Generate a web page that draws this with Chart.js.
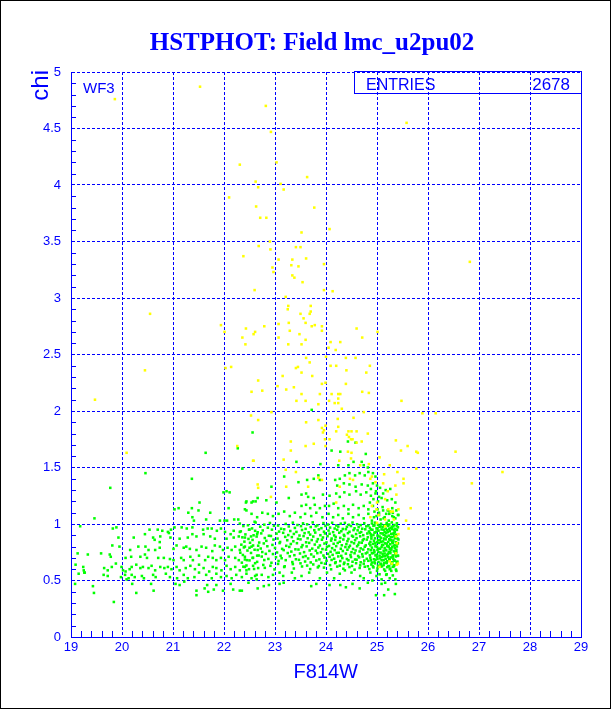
<!DOCTYPE html>
<html>
<head>
<meta charset="utf-8">
<script src="https://cdn.jsdelivr.net/npm/chart.js@4"></script>
<style>
  html, body { margin: 0; padding: 0; background: #fff; }
  canvas { display: block; }
</style>
</head>
<body>
<canvas id="myChart" width="612" height="709"></canvas>
<script>
// axis ranges (F814W magnitude, chi)
const xRange = [19, 29];
const yRange = [0, 5];
const entries = '2678';

// yellow stars: [F814W, chi]
const yellowStars = [
[19.86,4.76],[21.53,4.87],[22.82,4.70],[22.92,4.47],[25.58,4.55],[22.31,4.18],[23.03,4.20],[23.63,4.07],[22.67,3.98],[23.17,3.96],[22.10,3.89],
[22.62,4.03],[23.11,4.01],[22.63,3.81],[22.71,3.71],[22.83,3.71],[23.77,3.80],[23.52,3.58],[24.07,3.61],[22.90,3.50],[22.68,3.46],[22.91,3.43],[23.41,3.45],[23.50,3.45],[22.38,3.37],[23.07,3.34],[23.34,3.34],[23.61,3.35],[23.32,3.29],[23.46,3.28],[23.96,3.30],[22.95,3.27],[22.97,3.23],[23.34,3.20],[23.38,3.18],[23.54,3.14],[22.60,3.07],[23.96,3.07],[24.13,3.06],[23.21,3.01],[23.26,2.93],[23.70,2.93],[23.25,2.90],[23.70,2.88],[23.50,2.86],[23.68,2.86],[23.56,2.82],[23.60,2.78],[23.07,2.77],[23.27,2.78],[23.72,2.75],[23.78,2.76],[23.92,2.75],[23.92,2.71],[22.79,2.75],[22.43,2.73],[22.61,2.70],[22.58,2.68],[23.29,2.71],[23.48,2.68],[22.01,2.70],[21.94,2.76],[22.36,2.65],[22.42,2.59],[23.07,2.65],[23.60,2.63],[23.26,2.59],[23.52,2.59],[24.60,2.73],[24.71,2.65],[25.01,2.70],[24.09,2.61],[24.28,2.61],[24.05,2.56],[24.19,2.54],[23.61,2.47],[23.68,2.43],[23.45,2.39],[23.41,2.38],[23.52,2.34],[23.73,2.31],[23.15,2.31],[22.03,2.38],[22.14,2.39],[22.67,2.27],[22.54,2.17],[22.75,2.18],[23.05,2.22],[23.22,2.19],[23.37,2.21],[23.52,2.15],[23.88,2.15],[23.92,2.24],[23.99,2.25],[24.00,2.48],[24.09,2.40],[24.20,2.40],[24.11,2.15],[24.24,2.15],[24.28,2.15],[24.24,2.11],[24.40,2.36],[24.39,2.47],[24.58,2.47],[24.86,2.40],[24.79,2.34],[24.39,2.24],[24.71,2.17],[24.84,2.16],
[23.42,2.09],[23.60,2.09],[24.06,2.09],[23.85,2.06],[24.17,2.07],[24.24,2.07],[24.31,2.02],[25.48,2.09],[22.53,1.96],[22.67,1.92],[22.93,1.99],[23.61,1.90],[23.85,1.92],[23.99,1.87],[24.23,1.93],[24.54,1.94],[24.74,1.99],[25.89,1.98],[26.15,1.98],[23.92,1.85],[23.96,1.83],[24.24,1.86],[24.44,1.82],[24.50,1.82],[24.60,1.82],[24.82,1.80],[24.20,1.82],[23.94,1.81],[24.41,1.79],[24.45,1.77],[23.98,1.75],[24.07,1.75],[24.49,1.75],[24.52,1.75],[24.60,1.72],[24.70,1.73],[23.31,1.73],[23.76,1.71],[23.99,1.69],[23.60,1.69],[23.31,1.65],[22.57,1.56],[23.17,1.57],[24.50,1.63],[24.43,1.64],[24.26,1.56],[24.49,1.58],[24.67,1.52],[24.84,1.53],[25.05,1.59],[25.37,1.74],[25.47,1.65],[25.60,1.69],[25.77,1.64],[25.80,1.63],[25.25,1.52],[25.77,1.49],[25.40,1.46],[25.52,1.40],[25.36,1.34],[25.52,1.36],[25.14,1.44],[24.90,1.42],[24.87,1.40],[24.97,1.37],[25.12,1.36],[25.21,1.29],[25.16,1.22],[25.38,1.26],[25.66,1.14],[25.57,1.03],[25.62,0.96],[24.47,1.40],[24.53,1.39],[24.27,1.33],[24.20,1.19],[22.67,1.32],[22.92,1.24],[23.22,1.33],[23.21,1.48],[23.41,1.46],[23.65,1.33],[23.92,1.39],[23.85,1.41],
[24.87,1.06],[25.00,1.01],[25.16,1.04],[25.31,1.11],[25.42,1.13],[25.37,0.89],[24.90,1.16],[25.00,1.19],[24.99,1.13],[25.22,1.13],[25.27,1.11],[25.33,1.04],[25.42,0.91],[25.39,0.83],[25.37,0.74],[25.39,0.64],[25.25,0.67],[25.05,0.62],[25.16,0.98],[25.03,1.08],[25.29,0.65],[25.41,0.65],
[26.54,1.64],[27.46,1.46],[26.86,1.36],[26.82,3.32],[20.55,2.86],[20.45,2.36],[19.47,2.10],[20.09,1.63],[22.26,1.69],[22.58,1.56],[22.66,1.35]
];

// green stars: [F814W, chi]
const greenStars = [
// faint side, x < 22.7
[21.64,1.63],[22.27,1.67],[22.36,1.49],[20.46,1.45],[21.37,1.40],[19.77,1.32],[22.05,1.29],[22.11,1.28],[21.99,1.28],[22.62,1.20],[22.54,1.19],[22.43,1.19],[21.52,1.19],[21.03,1.13],[21.11,1.14],[21.30,1.10],[21.50,1.12],[21.37,1.14],[21.73,1.10],[22.09,1.14],[22.41,1.13],[19.46,1.05],[21.38,1.06],[21.41,1.03],[21.65,1.04],[21.92,1.03],[22.01,1.03],[22.06,1.03],[22.20,1.04],[22.28,1.04],[22.60,1.02],
[19.18,0.98],[19.89,0.97],[19.82,0.96],[20.54,0.95],[20.70,0.95],[20.79,0.94],[20.90,0.93],[20.96,0.95],[21.03,0.97],[21.17,0.97],[21.27,0.96],[21.38,0.97],[21.59,0.95],[21.68,0.96],[21.76,0.96],[21.86,0.94],[21.94,0.96],[22.02,0.93],[22.19,0.94],[22.31,0.93],[22.49,0.95],[22.61,0.94],
[19.93,0.88],[20.23,0.88],[20.45,0.91],[20.61,0.88],[20.75,0.89],[20.92,0.92],[20.95,0.88],[21.13,0.87],[21.29,0.88],[21.38,0.91],[21.46,0.89],[21.60,0.91],[21.73,0.89],[21.82,0.87],[22.05,0.87],[22.13,0.91],[22.19,0.88],[22.29,0.89],[22.41,0.88],[22.53,0.89],[22.65,0.91],[20.74,0.84],[20.64,0.86],
[19.81,0.81],[19.95,0.80],[20.16,0.77],[20.32,0.80],[20.46,0.80],[20.52,0.77],[20.65,0.77],[20.74,0.79],[21.01,0.78],[21.07,0.81],[21.21,0.79],[21.26,0.80],[21.33,0.78],[21.46,0.77],[21.56,0.80],[21.65,0.79],[21.77,0.76],[21.82,0.81],[21.92,0.80],[21.98,0.77],[22.07,0.79],[22.15,0.77],[22.22,0.80],[22.31,0.77],[22.41,0.80],[22.50,0.79],[22.57,0.81],[22.66,0.77],
[19.13,0.74],[19.33,0.73],[19.59,0.74],[19.76,0.73],[19.78,0.71],[20.07,0.70],[20.18,0.71],[20.36,0.71],[20.45,0.73],[20.49,0.70],[20.71,0.70],[20.82,0.70],[20.94,0.69],[21.01,0.68],[21.16,0.70],[21.21,0.68],[21.34,0.71],[21.39,0.68],[21.51,0.72],[21.63,0.68],[21.69,0.71],[21.78,0.70],[21.85,0.68],[21.94,0.70],[22.02,0.68],[22.09,0.71],[22.22,0.70],[22.29,0.68],[22.41,0.71],[22.45,0.68],[22.56,0.70],[22.65,0.72],
[19.09,0.64],[19.24,0.62],[19.25,0.59],[19.26,0.57],[19.65,0.61],[19.72,0.59],[19.80,0.62],[19.88,0.65],[19.99,0.62],[20.02,0.59],[20.07,0.58],[20.15,0.60],[20.19,0.62],[20.28,0.64],[20.36,0.61],[20.41,0.62],[20.52,0.61],[20.58,0.63],[20.65,0.59],[20.75,0.62],[20.83,0.61],[20.90,0.62],[20.97,0.60],[21.07,0.62],[21.13,0.59],[21.25,0.61],[21.34,0.63],[21.43,0.60],[21.51,0.64],[21.60,0.61],[21.71,0.58],[21.78,0.62],[21.85,0.61],[21.95,0.59],[22.05,0.63],[22.13,0.60],[22.22,0.62],[22.31,0.59],[22.41,0.62],[22.49,0.60],[22.57,0.63],[22.67,0.61],
[19.15,0.56],[19.27,0.57],[19.64,0.55],[19.72,0.54],[19.98,0.53],[20.06,0.55],[20.13,0.52],[20.19,0.55],[20.25,0.53],[20.39,0.54],[20.43,0.52],[20.61,0.55],[20.66,0.53],[20.86,0.56],[20.94,0.53],[21.08,0.52],[21.21,0.55],[21.29,0.52],[21.42,0.53],[21.51,0.57],[21.65,0.55],[21.76,0.52],[21.85,0.56],[21.94,0.53],[22.05,0.54],[22.15,0.52],[22.24,0.55],[22.35,0.53],[22.44,0.56],[22.54,0.52],[22.64,0.55],
[19.08,0.47],[19.43,0.45],[19.45,0.39],[20.09,0.51],[20.20,0.47],[20.28,0.39],[20.57,0.47],[20.62,0.41],[21.05,0.47],[21.13,0.46],[21.22,0.49],[21.46,0.41],[21.46,0.37],[21.62,0.43],[21.67,0.46],[21.69,0.40],[21.80,0.42],[21.85,0.46],[21.98,0.41],[22.13,0.47],[22.18,0.42],[22.31,0.41],[19.84,0.31],[22.48,0.48],[22.64,0.51],
// upper part of the main clump
[23.72,2.01],[22.56,1.81],[24.11,1.65],[24.28,1.64],[24.58,1.72],[24.43,1.73],[24.78,1.62],[23.42,1.55],[23.89,1.53],[24.24,1.52],[24.44,1.52],[24.54,1.55],[24.70,1.55],[24.74,1.52],[24.82,1.50],[23.18,1.42],[22.93,1.33],[23.46,1.37],[23.63,1.39],[23.76,1.40],[23.85,1.43],[23.88,1.39],[24.18,1.39],[24.27,1.40],[24.37,1.43],[24.46,1.45],[24.57,1.43],[24.66,1.45],[24.76,1.43],[24.83,1.46],[24.92,1.45],[24.97,1.42],[24.22,1.34],[24.35,1.36],[24.46,1.35],[24.58,1.33],[24.70,1.35],[24.82,1.34],[24.92,1.36],[25.00,1.34],
[22.44,1.20],[22.57,1.20],[22.66,1.23],[22.83,1.21],[23.03,1.19],[23.27,1.23],[23.52,1.26],[23.61,1.27],[23.65,1.24],[23.76,1.23],[23.94,1.26],[24.07,1.25],[24.20,1.27],[24.27,1.24],[24.36,1.28],[24.46,1.26],[24.59,1.29],[24.68,1.26],[24.79,1.28],[24.88,1.25],[24.97,1.27],[25.04,1.24],[25.12,1.27],
[23.52,1.16],[23.61,1.17],[23.69,1.14],[23.78,1.17],[23.88,1.14],[23.98,1.16],[24.06,1.16],[24.15,1.18],[24.24,1.14],[24.35,1.16],[24.44,1.13],[24.53,1.17],[24.64,1.14],[24.74,1.16],[24.83,1.13],[24.92,1.16],[25.01,1.13],[25.11,1.15],[25.21,1.12],[25.30,1.14],
[22.44,1.12],[22.54,1.09],[22.65,1.06],[22.75,1.10],[22.86,1.09],[22.96,1.07],[23.07,1.09],[23.18,1.11],[23.29,1.07],[23.39,1.10],[23.50,1.06],[23.59,1.09],[23.71,1.07],[23.81,1.10],[23.93,1.06],[24.05,1.09],[24.14,1.06],[24.24,1.08],[24.33,1.05],[24.44,1.09],[24.53,1.06],[24.64,1.08],[24.74,1.05],[24.83,1.09],[24.94,1.06],[25.04,1.08],[25.13,1.05],[25.24,1.09],[25.33,1.06],[25.42,1.08],
// dense band
[22.31,1.004],[22.47,0.989],[22.62,1.013],[22.79,0.994],[22.90,1.009],[23.06,0.986],[23.21,1.001],[23.35,1.012],[23.44,0.991],[23.55,1.006],[23.63,0.997],[23.74,1.014],[23.83,0.988],[23.95,1.008],[24.04,0.995],[24.12,1.011],[24.20,0.987],[24.29,1.003],[24.37,1.010],[24.45,0.993],[24.52,1.013],[24.61,0.998],[24.68,0.990],[24.75,1.007],[24.83,0.986],[24.90,1.005],[24.96,1.012],[25.02,0.992],[25.08,1.002],[25.14,0.988],[25.19,1.009],[25.24,0.996],[25.29,1.014],[25.34,0.991],[25.39,1.006],
[22.38,0.982],[22.55,0.961],[22.71,0.976],[22.86,0.967],[22.98,0.984],[23.12,0.958],[23.27,0.978],[23.39,0.965],[23.51,0.981],[23.60,0.957],[23.70,0.973],[23.80,0.980],[23.91,0.963],[23.99,0.983],[24.08,0.968],[24.17,0.960],[24.24,0.977],[24.33,0.956],[24.41,0.975],[24.49,0.982],[24.56,0.962],[24.64,0.972],[24.71,0.958],[24.79,0.979],[24.86,0.966],[24.93,0.984],[24.99,0.961],[25.05,0.976],[25.11,0.974],[25.17,0.959],[25.22,0.983],[25.27,0.964],[25.32,0.979],[25.36,0.956],[25.41,0.971],
[22.33,0.935],[22.50,0.951],[22.66,0.927],[22.76,0.943],[22.94,0.950],[23.08,0.933],[23.18,0.953],[23.30,0.938],[23.42,0.930],[23.53,0.947],[23.66,0.926],[23.77,0.945],[23.86,0.952],[23.96,0.932],[24.05,0.942],[24.14,0.928],[24.22,0.949],[24.30,0.936],[24.39,0.954],[24.46,0.931],[24.54,0.946],[24.62,0.944],[24.69,0.929],[24.77,0.953],[24.84,0.934],[24.91,0.949],[24.97,0.926],[25.03,0.941],[25.09,0.952],[25.15,0.931],[25.20,0.946],[25.25,0.937],[25.30,0.954],[25.35,0.928],[25.39,0.948],
[22.42,0.908],[22.58,0.900],[22.73,0.917],[22.88,0.896],[23.03,0.915],[23.16,0.922],[23.26,0.902],[23.37,0.912],[23.48,0.898],[23.58,0.919],[23.69,0.906],[23.79,0.924],[23.89,0.901],[23.98,0.916],[24.07,0.914],[24.16,0.899],[24.26,0.923],[24.35,0.904],[24.43,0.919],[24.51,0.896],[24.59,0.911],[24.66,0.922],[24.73,0.901],[24.81,0.916],[24.88,0.907],[24.95,0.924],[25.01,0.898],[25.07,0.918],[25.13,0.905],[25.18,0.921],[25.23,0.897],[25.28,0.913],[25.33,0.920],[25.38,0.903],
[22.36,0.882],[22.48,0.868],[22.64,0.889],[22.80,0.876],[22.92,0.894],[23.05,0.871],[23.20,0.886],[23.33,0.884],[23.45,0.869],[23.56,0.893],[23.64,0.874],[23.75,0.889],[23.84,0.866],[23.94,0.881],[24.03,0.892],[24.11,0.871],[24.19,0.886],[24.28,0.877],[24.36,0.894],[24.44,0.868],[24.53,0.888],[24.60,0.875],[24.67,0.891],[24.74,0.867],[24.82,0.883],[24.89,0.890],[24.96,0.873],[25.02,0.893],[25.08,0.878],[25.14,0.870],[25.19,0.887],[25.24,0.866],[25.29,0.885],[25.34,0.892],[25.40,0.872],
[22.40,0.844],[22.56,0.859],[22.69,0.836],[22.83,0.851],[22.97,0.862],[23.10,0.841],[23.24,0.856],[23.36,0.847],[23.50,0.864],[23.61,0.838],[23.72,0.858],[23.82,0.845],[23.92,0.861],[24.01,0.837],[24.10,0.853],[24.18,0.860],[24.27,0.843],[24.34,0.863],[24.42,0.848],[24.50,0.840],[24.57,0.857],[24.65,0.836],[24.72,0.855],[24.80,0.862],[24.87,0.842],[24.94,0.852],[25.00,0.838],[25.06,0.859],[25.12,0.846],[25.17,0.864],[25.22,0.841],[25.27,0.856],[25.32,0.854],[25.37,0.839],[25.42,0.863],
[22.34,0.817],[22.51,0.834],[22.67,0.808],[22.78,0.828],[22.95,0.815],[23.09,0.831],[23.22,0.807],[23.31,0.823],[23.43,0.830],[23.54,0.813],[23.67,0.833],[23.78,0.818],[23.88,0.810],[23.97,0.827],[24.06,0.806],[24.15,0.825],[24.23,0.832],[24.31,0.812],[24.40,0.822],[24.47,0.808],[24.55,0.829],[24.63,0.816],[24.70,0.834],[24.78,0.811],[24.85,0.826],[24.92,0.824],[24.98,0.809],[25.04,0.833],[25.10,0.814],[25.16,0.829],[25.21,0.806],[25.26,0.821],[25.31,0.832],[25.36,0.811],[25.40,0.826],
[22.39,0.793],[22.54,0.800],[22.72,0.783],[22.85,0.803],[23.00,0.788],[23.14,0.780],[23.28,0.797],[23.40,0.776],[23.52,0.795],[23.62,0.802],[23.73,0.782],[23.85,0.792],[23.93,0.778],[24.02,0.799],[24.12,0.786],[24.20,0.804],[24.29,0.781],[24.38,0.796],[24.45,0.794],[24.53,0.779],[24.61,0.803],[24.68,0.784],[24.76,0.799],[24.83,0.776],[24.90,0.791],[24.97,0.802],[25.03,0.781],[25.09,0.796],[25.15,0.787],[25.20,0.804],[25.25,0.778],[25.30,0.798],[25.35,0.785],[25.39,0.801],
[22.32,0.746],[22.46,0.765],[22.60,0.772],[22.75,0.752],[22.89,0.762],[23.04,0.748],[23.17,0.769],[23.32,0.756],[23.46,0.774],[23.57,0.751],[23.68,0.766],[23.80,0.764],[23.90,0.749],[24.00,0.773],[24.09,0.754],[24.17,0.769],[24.25,0.746],[24.33,0.761],[24.42,0.772],[24.50,0.751],[24.58,0.766],[24.66,0.757],[24.73,0.774],[24.81,0.748],[24.88,0.768],[24.95,0.755],[25.01,0.771],[25.07,0.747],[25.13,0.763],[25.18,0.770],[25.23,0.753],[25.28,0.773],[25.33,0.758],[25.38,0.750],
[22.37,0.726],[22.53,0.744],[22.68,0.721],[22.82,0.736],[22.96,0.734],[23.11,0.719],[23.25,0.743],[23.38,0.724],[23.49,0.739],[23.60,0.716],[23.71,0.731],[23.83,0.742],[23.95,0.721],[24.04,0.736],[24.13,0.727],[24.21,0.744],[24.30,0.718],[24.39,0.738],[24.48,0.725],[24.56,0.741],[24.63,0.717],[24.71,0.733],[24.78,0.740],[24.86,0.723],[24.93,0.743],[24.99,0.728],[25.05,0.720],[25.11,0.737],[25.16,0.716],[25.21,0.735],[25.26,0.742],[25.31,0.722],[25.36,0.732],[25.41,0.718],
[22.41,0.686],[22.57,0.701],[22.74,0.712],[22.87,0.691],[23.02,0.706],[23.13,0.697],[23.29,0.714],[23.41,0.688],[23.55,0.708],[23.65,0.695],[23.76,0.711],[23.87,0.687],[23.97,0.703],[24.07,0.710],[24.16,0.693],[24.24,0.713],[24.32,0.698],[24.41,0.690],[24.49,0.707],[24.57,0.686],[24.65,0.705],[24.72,0.712],[24.80,0.692],[24.87,0.702],[24.94,0.688],[25.00,0.709],[25.06,0.696],[25.12,0.714],[25.17,0.691],[25.22,0.706],[25.27,0.704],[25.32,0.689],[25.37,0.713],
[22.35,0.658],[22.50,0.678],[22.65,0.665],[22.79,0.681],[22.93,0.657],[23.07,0.673],[23.21,0.680],[23.34,0.663],[23.47,0.683],[23.59,0.668],[23.70,0.660],[23.81,0.677],[23.91,0.656],[24.01,0.675],[24.11,0.682],[24.19,0.662],[24.28,0.672],[24.36,0.658],[24.44,0.679],[24.52,0.666],[24.60,0.684],[24.68,0.661],[24.75,0.676],[24.83,0.674],[24.90,0.659],[24.97,0.683],[25.03,0.664],[25.09,0.679],[25.14,0.656],[25.20,0.671],[25.25,0.682],[25.30,0.661],[25.35,0.676],[25.40,0.667],
[22.44,0.633],[22.61,0.653],[22.77,0.638],[22.91,0.630],[23.06,0.647],[23.19,0.626],[23.35,0.645],[23.50,0.652],[23.63,0.632],[23.75,0.642],[23.86,0.628],[23.98,0.649],[24.08,0.636],[24.18,0.654],[24.27,0.631],[24.35,0.646],[24.43,0.644],[24.51,0.629],[24.59,0.653],[24.67,0.634],[24.74,0.649],[24.82,0.626],[24.89,0.641],[24.96,0.652],[25.02,0.631],[25.08,0.646],[25.13,0.637],[25.19,0.654],[25.24,0.628],[25.29,0.648],[25.34,0.635],[25.39,0.651],
[22.38,0.622],[22.59,0.602],[22.80,0.612],[22.99,0.598],[23.18,0.619],[23.37,0.606],[23.53,0.624],[23.69,0.601],[23.84,0.616],[23.96,0.614],[24.10,0.599],[24.22,0.623],[24.34,0.604],[24.46,0.619],[24.56,0.596],[24.66,0.611],[24.76,0.622],[24.85,0.601],[24.93,0.616],[25.01,0.607],[25.07,0.624],[25.14,0.598],[25.20,0.618],[25.26,0.605],[25.31,0.621],[25.37,0.597],
// bright core near 25 mag
[24.88,1.31],[24.98,1.29],[25.06,1.32],[25.17,1.30],[25.26,1.31],[24.93,1.22],[25.02,1.20],[25.09,1.23],[25.20,1.21],[25.29,1.22],[25.36,1.19],[24.86,1.19],[24.95,1.11],[25.04,1.10],[25.12,1.12],[25.18,1.09],[25.25,1.11],[25.31,1.10],[25.38,1.12],[24.90,1.03],[24.99,1.07],[25.07,1.04],[25.15,1.06],[25.23,1.03],[25.30,1.07],[25.36,1.05],[25.41,1.08],
[24.88,0.951],[24.95,0.988],[25.01,0.962],[25.07,0.979],[25.13,0.949],[25.18,0.991],[25.24,0.958],[25.29,0.976],[25.34,0.946],[25.39,0.983],
[24.86,0.921],[24.93,0.902],[24.99,0.933],[25.05,0.889],[25.11,0.917],[25.16,0.898],[25.21,0.929],[25.27,0.884],[25.32,0.913],[25.37,0.903],
[24.89,0.871],[24.96,0.829],[25.02,0.858],[25.08,0.842],[25.14,0.869],[25.19,0.826],[25.25,0.861],[25.30,0.838],[25.35,0.874],[25.41,0.831],
[24.87,0.811],[24.94,0.769],[25.00,0.797],[25.06,0.781],[25.12,0.815],[25.17,0.768],[25.23,0.799],[25.28,0.784],[25.33,0.809],[25.38,0.772],
[24.90,0.741],[24.97,0.722],[25.03,0.752],[25.09,0.708],[25.15,0.739],[25.20,0.724],[25.26,0.751],[25.31,0.711],[25.36,0.744],[25.41,0.719],
[24.88,0.679],[24.95,0.661],[25.01,0.692],[25.07,0.648],[25.13,0.681],[25.18,0.659],[25.24,0.689],[25.29,0.651],[25.34,0.677],[25.39,0.662],
[24.92,0.625],[25.00,0.585],[25.10,0.625],[25.16,0.585],[25.22,0.625],[25.28,0.585],[25.33,0.625],[25.38,0.585],[25.05,0.555],[25.19,0.555],[25.31,0.545],[25.25,0.520],[25.36,0.510],
// lower edge
[22.44,0.59],[22.61,0.54],[22.74,0.55],[22.87,0.53],[22.96,0.55],[23.09,0.57],[23.16,0.54],[23.33,0.57],[23.39,0.52],[23.52,0.54],[23.67,0.57],[23.88,0.52],[24.02,0.57],[24.16,0.52],[24.27,0.56],[24.37,0.59],[24.50,0.57],[24.67,0.54],[24.74,0.52],[24.87,0.57],[24.99,0.54],[25.09,0.51],[25.18,0.55],[25.25,0.60],
[22.35,0.41],[22.66,0.43],[22.78,0.45],[22.88,0.46],[23.09,0.47],[23.17,0.48],[23.71,0.45],[23.81,0.47],[24.07,0.46],[24.28,0.46],[24.39,0.44],[24.52,0.47],[24.66,0.43],[24.82,0.48],[24.91,0.50],[25.09,0.47],[25.16,0.48],[25.22,0.42],[25.37,0.47],[24.98,0.37],[25.14,0.37],[25.35,0.38]
];

const blue = '#0000ff';

// frame, minor ticks and the ROOT-style texts
const decor = {
  id: 'decor',
  beforeDraw(chart) {
    const c = chart.ctx;
    c.save();
    c.fillStyle = '#fff';
    c.fillRect(0, 0, chart.width, chart.height);
    c.restore();
  },
  afterDraw(chart) {
    const c = chart.ctx;
    const a = chart.chartArea;
    const xs = chart.scales.x, ys = chart.scales.y;
    c.save();
    // pad border
    c.strokeStyle = '#000';
    c.lineWidth = 1;
    c.strokeRect(0.5, 0.5, 610, 708);

    // right frame line
    c.strokeStyle = blue;
    c.beginPath();
    c.moveTo(Math.round(a.right) + 0.5, a.top);
    c.lineTo(Math.round(a.right) + 0.5, a.bottom);
    c.stroke();

    // minor ticks
    c.beginPath();
    for (let i = 1; i < 50; i++) {
      if (i % 5 === 0) continue;
      const py = Math.round(ys.getPixelForValue(i / 10)) + 0.5;
      c.moveTo(a.left, py);
      c.lineTo(a.left + 5, py);
    }
    for (let i = 1; i < 50; i++) {
      if (i % 5 === 0) continue;
      const px = Math.round(xs.getPixelForValue(19 + i / 5)) + 0.5;
      c.moveTo(px, a.bottom);
      c.lineTo(px, a.bottom - 6);
    }
    c.stroke();

    // title
    c.fillStyle = blue;
    c.textAlign = 'center';
    c.textBaseline = 'alphabetic';
    c.font = 'bold 25px "Liberation Serif"';
    c.fillText('HSTPHOT: Field lmc_u2pu02', 312, 50);

    // axis titles
    c.font = '20px "Liberation Sans"';
    c.textAlign = 'right';
    c.fillText('F814W', 358, 678);
    c.save();
    c.translate(48, 70);
    c.rotate(-Math.PI / 2);
    c.font = '24px "Liberation Sans"';
    c.textAlign = 'right';
    c.fillText('chi', 0, 0);
    c.restore();

    // pad label
    c.textAlign = 'left';
    c.font = '15px "Liberation Sans"';
    c.fillText('WF3', 83, 93);

    // stats box
    c.strokeStyle = blue;
    c.strokeRect(354.5, 71.5, Math.round(a.right) - 354, 22);
    c.font = '16px "Liberation Sans"';
    c.fillText('ENTRIES', 366, 90);
    c.textAlign = 'right';
    c.font = '17px "Liberation Sans"';
    c.fillText(entries, 570, 90);
    c.restore();
  }
};

new Chart(document.getElementById('myChart'), {
  type: 'scatter',
  data: {
    datasets: [{
      label: 'chi > cut',
      data: yellowStars.map(p => ({x: p[0], y: p[1]})),
      backgroundColor: '#ffff00',
      borderWidth: 0,
      pointStyle: 'rect',
      pointRadius: 1.8
    }, {
      label: 'stars',
      data: greenStars.map(p => ({x: p[0], y: p[1]})),
      backgroundColor: '#00ff00',
      borderWidth: 0,
      pointStyle: 'rect',
      pointRadius: 1.8
    }]
  },
  options: {
    responsive: false,
    animation: false,
    devicePixelRatio: 1,
    layout: { padding: { top: 72, right: 31, left: 0, bottom: 0 } },
    plugins: { legend: { display: false }, tooltip: { enabled: false } },
    scales: {
      x: {
        type: 'linear',
        min: xRange[0],
        max: xRange[1],
        afterFit: s => { s.height = 72; },
        ticks: { stepSize: 1, color: blue, padding: 3, maxRotation: 0, autoSkip: false,
                 font: { family: 'Liberation Sans', size: 13 } },
        grid: { color: blue, lineWidth: 1, drawTicks: false },
        border: { display: true, color: blue, width: 1, dash: [3, 2] }
      },
      y: {
        min: yRange[0],
        max: yRange[1],
        afterFit: s => { s.width = 71; },
        ticks: { stepSize: 0.5, color: blue, padding: 10,
                 callback: v => String(Math.round(v * 10) / 10),
                 font: { family: 'Liberation Sans', size: 13 } },
        grid: { color: blue, lineWidth: 1, drawTicks: false },
        border: { display: true, color: blue, width: 1, dash: [3, 2] }
      }
    }
  },
  plugins: [decor]
});
</script>
</body>
</html>
